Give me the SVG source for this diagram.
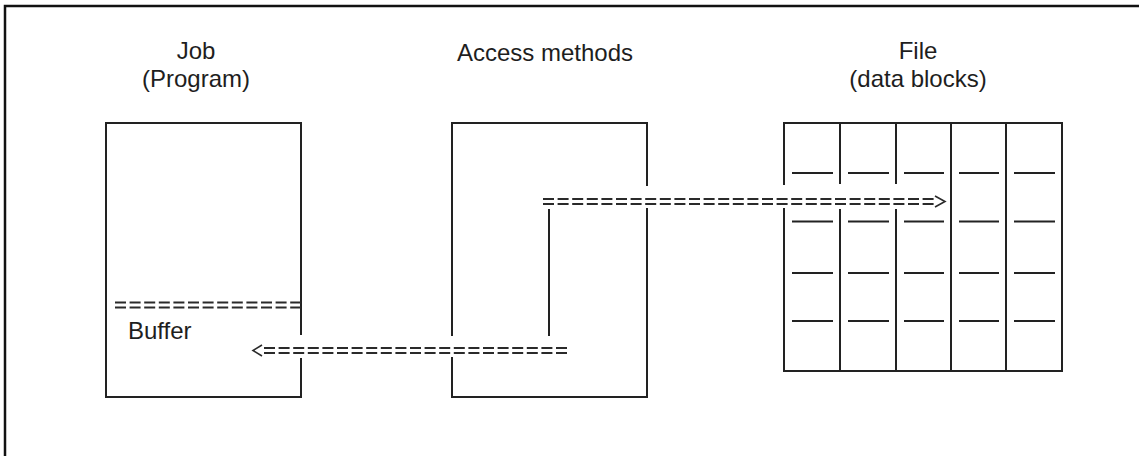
<svg xmlns="http://www.w3.org/2000/svg" width="1139" height="456" viewBox="0 0 1139 456">
<style>
.frame{fill:none;stroke:#111;stroke-width:2.5}
.box{fill:none;stroke:#222;stroke-width:2;stroke-linecap:square}
.lbl{font-family:"Liberation Sans",Arial,sans-serif;font-size:24px;fill:#1e1e1e;text-anchor:middle}
.lbl2{font-family:"Liberation Sans",Arial,sans-serif;font-size:24px;fill:#1e1e1e}
.eq{fill:none;stroke:#2a2a2a;stroke-width:1.8;stroke-dasharray:11 3.6}
.chev{fill:none;stroke:#2a2a2a;stroke-width:1.6}
.seg{fill:none;stroke:#222;stroke-width:2}
</style>
<rect width="1139" height="456" fill="#fff"/>
<path class="frame" d="M5,456 V6 H1139"/>

<g id="job">
  <text class="lbl" x="196" y="59">Job</text>
  <text class="lbl" x="196" y="86.5">(Program)</text>
  <path class="box" d="M301,334 V123 H106 V397 H301 V359"/>
  <line class="eq" x1="115" y1="302.5" x2="301" y2="302.5"/>
  <line class="eq" x1="115" y1="307.5" x2="301" y2="307.5"/>
  <text class="lbl2" x="128" y="339">Buffer</text>
</g>

<g id="access">
  <text class="lbl" x="545" y="61">Access methods</text>
  <path class="box" d="M452,335 V123 H647 V185"/>
  <path class="box" d="M452,358 V397 H647 V209"/>
  <line class="box" x1="549" y1="210" x2="549" y2="335"/>
</g>

<g id="file">
  <text class="lbl" x="918" y="59">File</text>
  <text class="lbl" x="918" y="86.5">(data blocks)</text>
  <path class="box" d="M784,184 V123 H1062 V371 H784 V209"/>
  <path class="seg" d="M840,123 V184 M840,209 V371 M896,123 V184 M896,209 V371 M951,123 V371 M1006,123 V371"/>
  <path class="seg" d="M792,173 H833 M848,173 H889 M904,173 H944 M959,173 H999 M1014,173 H1055
    M792,221.5 H833 M848,221.5 H889 M904,221.5 H944 M959,221.5 H999 M1014,221.5 H1055
    M792,273 H833 M848,273 H889 M904,273 H944 M959,273 H999 M1014,273 H1055
    M792,321 H833 M848,321 H889 M904,321 H944 M959,321 H999 M1014,321 H1055"/>
</g>

<g id="connectors">
  <g id="to-file">
    <line class="eq" x1="543" y1="199" x2="936" y2="199"/>
    <line class="eq" x1="543" y1="204" x2="936" y2="204"/>
    <polyline class="chev" points="935,196 945,201.5 935,207"/>
  </g>
  <g id="to-buffer">
    <line class="eq" x1="264" y1="348" x2="568" y2="348"/>
    <line class="eq" x1="264" y1="353" x2="568" y2="353"/>
    <polyline class="chev" points="262,345 253,350.5 262,356"/>
  </g>
</g>
</svg>
